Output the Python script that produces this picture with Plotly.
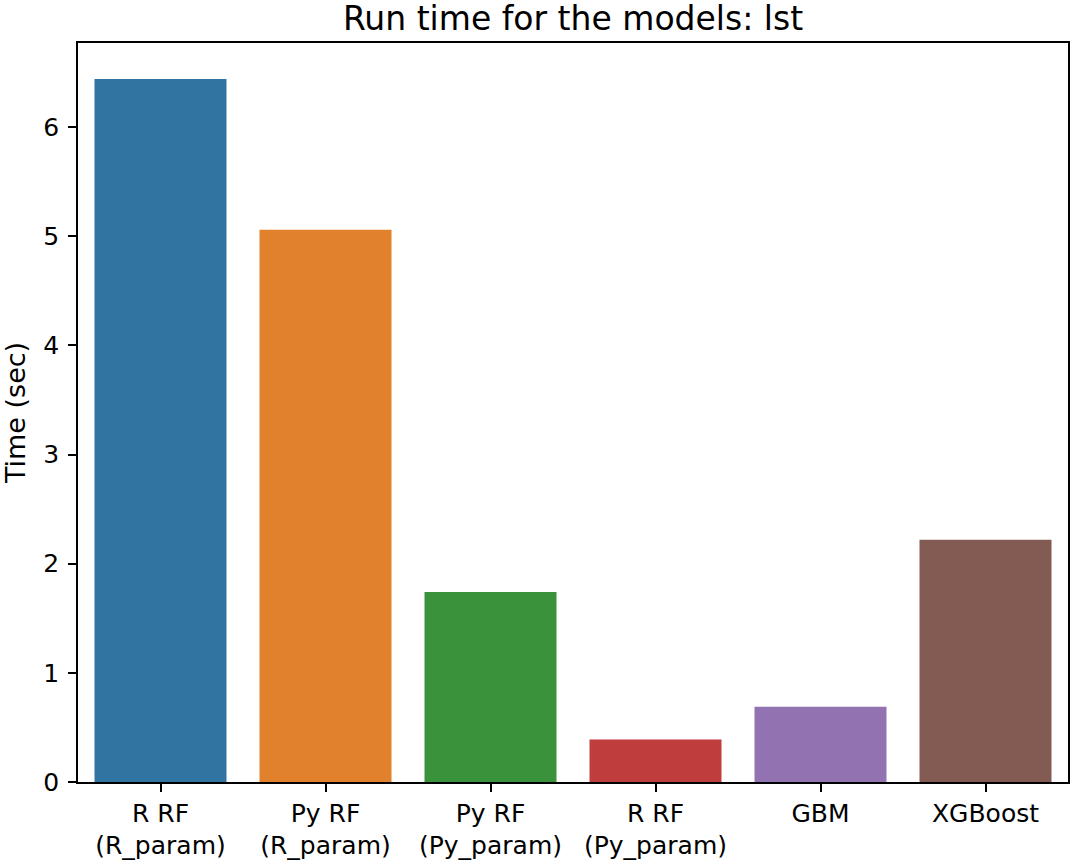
import plotly.graph_objects as go

# seaborn barplot, run time per model
models = ["R RF<br>(R_param)", "Py RF<br>(R_param)", "Py RF<br>(Py_param)",
          "R RF<br>(Py_param)", "GBM", "XGBoost"]
run_time = [6.44, 5.06, 1.74, 0.39, 0.69, 2.22]
colors = ["#3274a1", "#e1812c", "#3a923a", "#c03d3e", "#9372b2", "#845b53"]
y_ticks = [0, 1, 2, 3, 4, 5, 6]

fig = go.Figure(go.Bar(
    x=list(range(len(models))), y=run_time, marker_color=colors,
    marker_line_width=0, width=0.8,
))
fig.update_layout(
    width=1072, height=862,
    title=dict(text="Run time for the models: lst", x=0.5, xref="paper", xanchor="center",
               y=0.979, yanchor="middle", font=dict(size=33, color="#000000")),
    font=dict(family="DejaVu Sans", size=25, color="#000000"),
    plot_bgcolor="white", paper_bgcolor="white",
    margin=dict(l=78, r=2, t=43, b=80),
    showlegend=False,
)
fig.update_xaxes(
    range=[-0.5, 5.5], tickvals=list(range(len(models))), ticktext=models,
    showline=True, linecolor="black", linewidth=1.5, mirror=True,
    ticks="outside", ticklen=8, tickwidth=1.5, tickcolor="black",
    showgrid=False, zeroline=False,
)
fig.update_yaxes(
    range=[0, 6.77], tickvals=y_ticks, ticklabelstandoff=4,
    title=dict(text="Time (sec)", standoff=20, font=dict(size=27)),
    showline=True, linecolor="black", linewidth=1.5, mirror=True,
    ticks="outside", ticklen=8, tickwidth=1.5, tickcolor="black",
    showgrid=False, zeroline=False,
)
# drop the default 8px body margin so the figure fills the window
fig.write_html("out.html", config={"displayModeBar": False},
               post_script="document.body.style.margin='0';")
